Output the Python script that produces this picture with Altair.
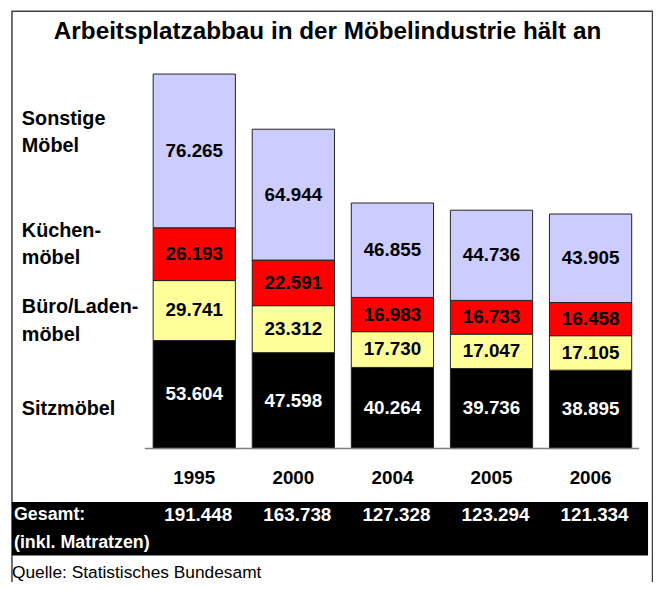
import altair as alt
import pandas as pd

FONT = "Liberation Sans"

years = ["1995", "2000", "2004", "2005", "2006"]
categories = ["Sitzmöbel", "Büro/Ladenmöbel", "Küchenmöbel", "Sonstige Möbel"]
sitz = [53604, 47598, 40264, 39736, 38895]
buero = [29741, 23312, 17730, 17047, 17105]
kueche = [26193, 22591, 16983, 16733, 16458]
sonstige = [76265, 64944, 46855, 44736, 43905]
totals = [191448, 163738, 127328, 123294, 121334]
colors = ["#000000", "#FFFF99", "#FF0000", "#CCCCFF"]
text_colors = ["#FFFFFF", "#000000", "#000000", "#000000"]
cat_lines = ["Sonstige", "Möbel", "Küchen-", "möbel", "Büro/Laden-", "möbel", "Sitzmöbel"]
cat_line_y = [109, 137, 222, 250, 299, 327, 402]
title = "Arbeitsplatzabbau in der Möbelindustrie hält an"
gesamt_lines = ["Gesamt:", "(inkl. Matratzen)"]
source = "Quelle: Statistisches Bundesamt"


def de(v):
    return f"{v:,}".replace(",", ".")


series = [sitz, buero, kueche, sonstige]
rows = []
for i, yr in enumerate(years):
    base = 0
    for j, cat in enumerate(categories):
        v = series[j][i]
        rows.append({"year": yr, "cat": cat, "y0": base, "y1": base + v,
                     "mid": base + v / 2, "label": de(v), "tcolor": text_colors[j]})
        base += v
df = pd.DataFrame(rows)
ymax = df.groupby("year")["y1"].max().max()

tot_df = pd.DataFrame({"year": years, "label": [de(t) for t in totals]})
yr_df = pd.DataFrame({"year": years})
cat_df = pd.DataFrame({"t": cat_lines, "py": cat_line_y})
one = pd.DataFrame({"a": [0]})

x_scale = alt.Scale(domain=years, range=[138, 638], paddingInner=0.17, paddingOuter=0.085)
y_scale = alt.Scale(domain=[0, ymax], range=[442, 64], nice=False, zero=False)

frame = alt.Chart(one).mark_rect(fillOpacity=0, stroke="#404040", strokeWidth=1.5).encode(
    x=alt.value(4), x2=alt.value(650.5), y=alt.value(0.5), y2=alt.value(620))

title_l = alt.Chart(one).mark_text(fontSize=24.5, fontWeight="bold", font=FONT,
                                   align="center", baseline="middle").encode(
    x=alt.value(322.5), y=alt.value(22), text=alt.value(title))

bars = alt.Chart(df).mark_bar(stroke="#222222", strokeWidth=1).encode(
    x=alt.X("year:N", scale=x_scale, axis=None),
    y=alt.Y("y0:Q", scale=y_scale, axis=None),
    y2="y1:Q",
    color=alt.Color("cat:N", scale=alt.Scale(domain=categories, range=colors), legend=None),
)

vals = alt.Chart(df).mark_text(fontSize=19, fontWeight="bold", font=FONT, baseline="middle").encode(
    x=alt.X("year:N", scale=x_scale, axis=None),
    y=alt.Y("mid:Q", scale=y_scale, axis=None),
    text="label:N",
    color=alt.Color("tcolor:N", scale=None),
)

base_rule = alt.Chart(one).mark_rule(color="#808080", strokeWidth=1.5).encode(
    y=alt.Y("a:Q", scale=y_scale, axis=None), x=alt.value(138), x2=alt.value(637))

year_l = alt.Chart(yr_df).mark_text(fontSize=19, fontWeight="bold", font=FONT, baseline="middle").encode(
    x=alt.X("year:N", scale=x_scale, axis=None), y=alt.value(472), text="year:N")

cat_l = alt.Chart(cat_df).mark_text(fontSize=20, fontWeight="bold", font=FONT,
                                    align="left", baseline="middle").encode(
    x=alt.value(14), y=alt.Y("py:Q", scale=None), text="t:N")

band = alt.Chart(one).mark_rect(color="#000000").encode(
    x=alt.value(4), x2=alt.value(646), y=alt.value(496), y2=alt.value(550))

tot_l = alt.Chart(tot_df).mark_text(fontSize=19, fontWeight="bold", font=FONT, color="#FFFFFF",
                                    baseline="middle", dx=4).encode(
    x=alt.X("year:N", scale=x_scale, axis=None), y=alt.value(509), text="label:N")

g1 = alt.Chart(one).mark_text(fontSize=18, fontWeight="bold", font=FONT, color="#FFFFFF",
                              align="left", baseline="middle").encode(
    x=alt.value(6), y=alt.value(509), text=alt.value(gesamt_lines[0]))
g2 = alt.Chart(one).mark_text(fontSize=18, fontWeight="bold", font=FONT, color="#FFFFFF",
                              align="left", baseline="middle").encode(
    x=alt.value(6), y=alt.value(537), text=alt.value(gesamt_lines[1]))

src = alt.Chart(one).mark_text(fontSize=17.5, font=FONT, color="#000000",
                               align="left", baseline="middle").encode(
    x=alt.value(4), y=alt.value(568), text=alt.value(source))

chart = alt.layer(frame, title_l, bars, vals, base_rule, year_l, cat_l, band, tot_l, g1, g2, src).properties(
    width=651, height=574, padding=0, autosize=alt.AutoSizeParams(type="none"),
    background="#FFFFFF",
).configure_view(stroke=None)

chart.save("out.html", embed_options={"renderer": "svg", "actions": False})
